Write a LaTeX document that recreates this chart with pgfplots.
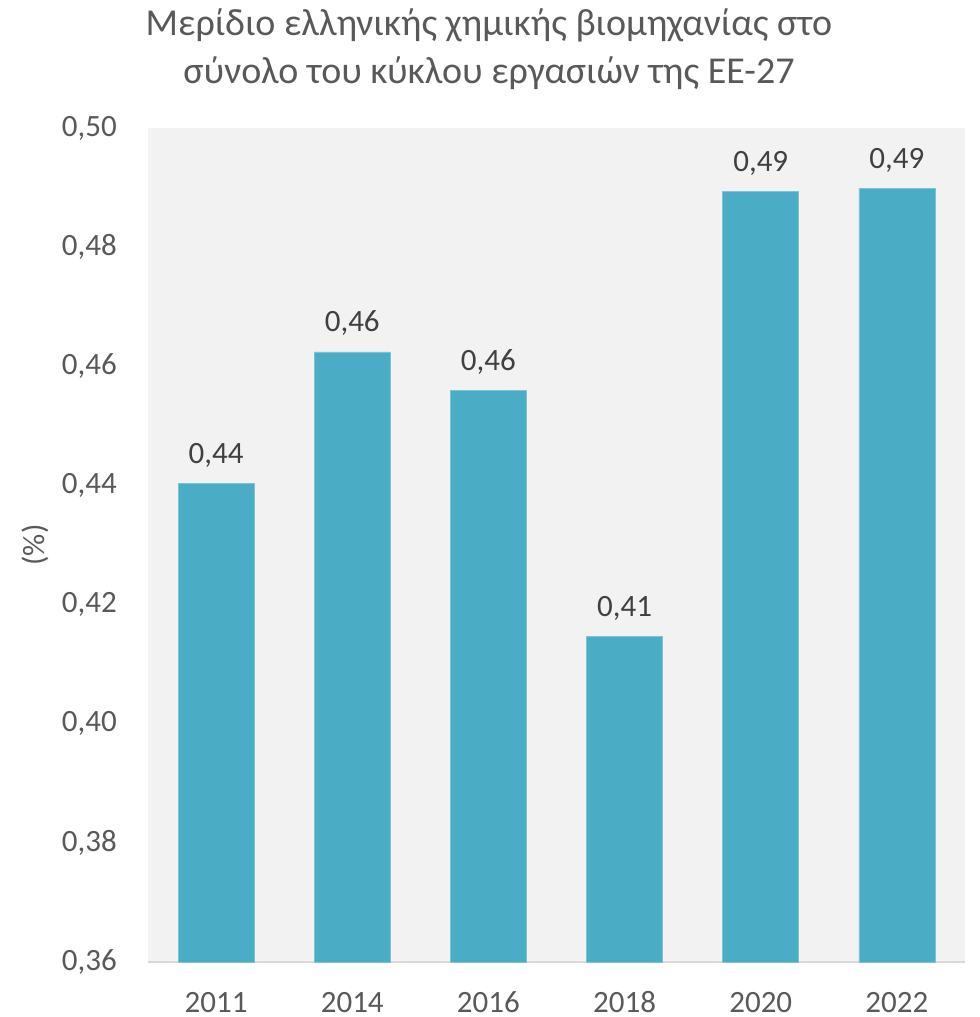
\documentclass[border=0pt]{standalone}
\usepackage{fontspec}
\setmainfont{Carlito}
\usepackage{pgfplots}
\pgfplotsset{compat=1.18}
\definecolor{barc}{RGB}{75,172,198}
\definecolor{txt}{RGB}{89,89,89}
\definecolor{lbl}{RGB}{64,64,64}
\definecolor{bg}{RGB}{242,242,242}
\definecolor{axl}{RGB}{217,217,217}
\begin{document}
\begin{tikzpicture}
\path[use as bounding box] (-148bp,-55bp) rectangle (832bp,962bp);
\begin{axis}[
  at={(0,0)}, anchor=south west,
  scale only axis, width=817bp, height=834bp,
  xmin=-0.5, xmax=5.5, ymin=0.36, ymax=0.50,
  ybar, bar width=76bp,
  xtick={0,1,2,3,4,5}, xticklabels={2011,2014,2016,2018,2020,2022},
  ytick={0.36,0.38,0.40,0.42,0.44,0.46,0.48,0.50},
  axis background/.style={fill=bg},
  axis x line*=bottom, axis y line*=left,
  x axis line style={draw=axl, line width=1.5bp, -},
  y axis line style={draw=none},
  major tick length=0pt,
  tick label style={font=\fontsize{31bp}{37bp}\selectfont, text=txt},
  yticklabel style={anchor=east, inner sep=0pt, xshift=-31bp},
  xticklabel style={anchor=base, inner sep=0pt, yshift=-50bp},
  /pgf/number format/.cd, use comma, fixed, fixed zerofill, precision=2, assume math mode=true, /pgfplots/.cd,
  nodes near coords,
  nodes near coords style={font=\fontsize{31bp}{37bp}\selectfont, text=lbl, anchor=base, yshift=20bp, inner sep=0pt},
]
\addplot[fill=barc, draw={rgb,255:red,125;green,195;blue,214}, line width=0.6bp] coordinates {(0,0.4404) (1,0.4624) (2,0.4560) (3,0.4146) (4,0.4894) (5,0.4898)};
\end{axis}
\node[font=\fontsize{38bp}{48bp}\selectfont, text=txt, align=center] at (341bp,913bp) {Μερίδιο ελληνικής χημικής βιομηχανίας στο\\σύνολο του κύκλου εργασιών της ΕΕ-27};
\node[font=\fontsize{31bp}{37bp}\selectfont, text=txt, rotate=90] at (-113bp,417bp) {(\%)};
\end{tikzpicture}
\end{document}
